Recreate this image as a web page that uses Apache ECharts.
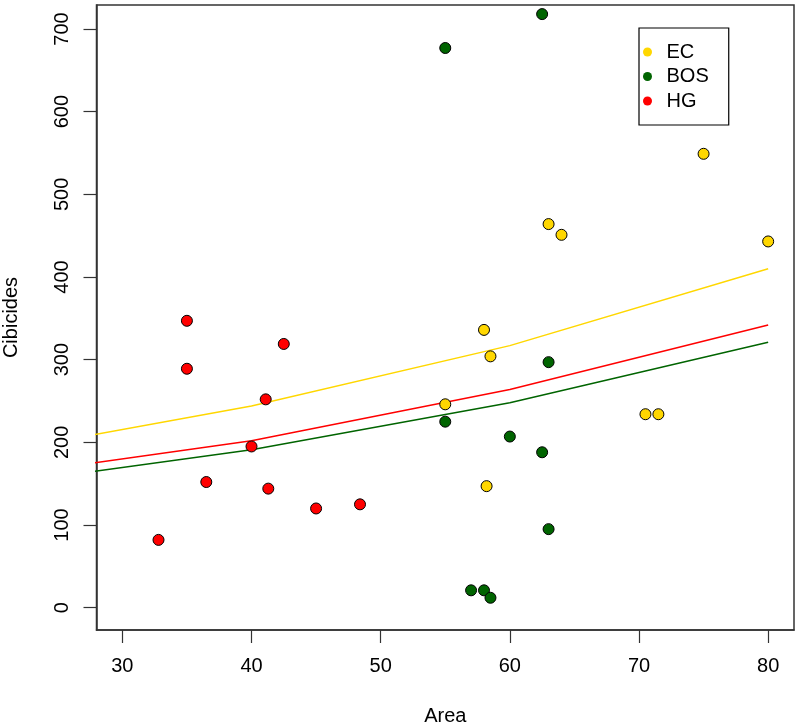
<!DOCTYPE html>
<html lang="en">
<head>
    <meta charset="UTF-8">
    <title>Cibicides vs Area</title>
    <style>
        html, body {
            margin: 0;
            height: 100%;
            width: 100%;
            background: #fff;
        }
        .myEcharts {
            width: 800px;
            height: 728px;
        }
    </style>
</head>
<body>
    <div id="main" class="myEcharts"></div>
    <script src="https://cdn.jsdelivr.net/npm/echarts@6/dist/echarts.min.js"></script>
    <script>
        // points: [Area, Cibicides]
        var ecPoints = [[55, 246], [58, 336], [58.5, 304], [58.2, 147], [63, 464],
                        [64, 451], [70.5, 234], [71.5, 234], [75, 549], [80, 443]];
        var bosPoints = [[62.5, 718], [55, 677], [63, 297], [55, 225], [60, 207],
                         [62.5, 188], [63, 95], [57, 21], [58, 21], [58.5, 12]];
        var hgPoints = [[35, 347], [35, 289], [42.5, 319], [41.1, 252], [40, 195],
                        [36.5, 152], [41.3, 144], [45, 120], [48.4, 125], [32.8, 82]];

        // fitted curves, evaluated at a few x values
        var fitX = [20, 40, 60, 80];
        var ecFit = [187, 244, 317, 410];
        var bosFit = [148, 191, 248, 321];
        var hgFit = [158, 202, 264, 342];

        var xTicks = [30, 40, 50, 60, 70, 80];
        var yTicks = [0, 100, 200, 300, 400, 500, 600, 700];

        var yellow = '#FFD700', green = '#006400', red = '#FF0000';
        var font = '"Liberation Sans", Arial, sans-serif';

        function pairs(xs, ys) {
            return xs.map(function (x, i) { return [x, ys[i]]; });
        }

        function fitLine(ys, color) {
            return {
                type: 'line',
                data: pairs(fitX, ys),
                symbol: 'none',
                clip: true,
                silent: true,
                z: 1,
                lineStyle: { color: color, width: 1.5 }
            };
        }

        function dots(name, data, color) {
            return {
                name: name,
                type: 'scatter',
                data: data,
                symbol: 'circle',
                symbolSize: 11,
                z: 3,
                itemStyle: { color: color, borderColor: '#000', borderWidth: 1, opacity: 1 }
            };
        }

        var axisLine = { show: true, onZero: false, lineStyle: { color: '#333', width: 1.5 } };

        var myCharts = echarts.init(document.getElementById('main'));
        var option = {
            animation: false,
            textStyle: { fontFamily: font },
            grid: {
                left: 96.5, top: 5, right: 6, bottom: 98,
                outerBoundsMode: 'none',
                containLabel: false,
                show: true, borderColor: '#333', borderWidth: 1.5,
                backgroundColor: 'transparent'
            },
            legend: {
                data: ['EC', 'BOS', 'HG'],
                orient: 'vertical',
                left: 639, top: 28,
                padding: [14, 20, 14, 4],
                itemGap: 4.5,
                itemWidth: 28, itemHeight: 9,
                icon: 'circle',
                itemStyle: { borderWidth: 0 },
                borderColor: '#000', borderWidth: 1.2,
                textStyle: { fontSize: 20, lineHeight: 20, color: '#000', fontFamily: font }
            },
            xAxis: {
                type: 'value',
                min: 28, max: 82,
                name: 'Area',
                nameLocation: 'middle',
                nameGap: 76,
                nameTextStyle: { fontSize: 20, color: '#000', fontFamily: font },
                axisLine: axisLine,
                splitLine: { show: false },
                axisTick: { show: true, inside: false, length: 13, customValues: xTicks,
                            lineStyle: { color: '#333', width: 1.2 } },
                axisLabel: { customValues: xTicks, fontSize: 20, color: '#000', margin: 26 }
            },
            yAxis: {
                type: 'value',
                min: -27, max: 729,
                name: 'Cibicides',
                nameLocation: 'middle',
                nameGap: 75,
                nameTextStyle: { fontSize: 20, color: '#000', fontFamily: font },
                axisLine: axisLine,
                splitLine: { show: false },
                axisTick: { show: true, inside: false, length: 13, customValues: yTicks,
                            lineStyle: { color: '#333', width: 1.2 } },
                axisLabel: { customValues: yTicks, fontSize: 20, color: '#000', rotate: 90, margin: 24 }
            },
            series: [
                fitLine(ecFit, yellow),
                fitLine(bosFit, green),
                fitLine(hgFit, red),
                dots('EC', ecPoints, yellow),
                dots('BOS', bosPoints, green),
                dots('HG', hgPoints, red)
            ]
        };
        myCharts.setOption(option);
    </script>
</body>
</html>
